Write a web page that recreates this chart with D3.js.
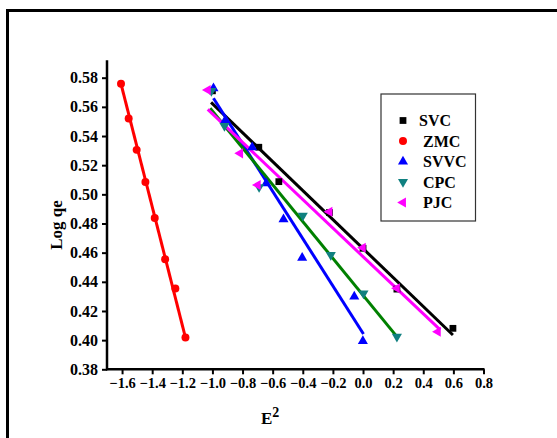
<!DOCTYPE html>
<html>
<head>
<meta charset="utf-8">
<script src="https://cdn.jsdelivr.net/npm/d3@7"></script>
<style>
  body { margin: 0; background: #fff; }
  svg { display: block; font-family: 'Liberation Serif', 'Times New Roman', serif; font-weight: bold; }
</style>
</head>
<body>
<script>
var seriesNames = ['SVC', 'ZMC', 'SVVC', 'CPC', 'PJC']
var xTicks = [-1.6, -1.4, -1.2, -1.0, -0.8, -0.6, -0.4, -0.2, 0.0, 0.2, 0.4, 0.6, 0.8]
var yTicks = [0.38, 0.40, 0.42, 0.44, 0.46, 0.48, 0.50, 0.52, 0.54, 0.56, 0.58]

var svcX = [-1.0, -0.692, -0.559, -0.223, 0.0, 0.225, 0.597]
var svcY = [0.571, 0.5323, 0.5087, 0.4875, 0.463, 0.435, 0.4081]
var zmcX = [-1.607, -1.556, -1.503, -1.445, -1.383, -1.314, -1.246, -1.179]
var zmcY = [0.5758, 0.5520, 0.5305, 0.5085, 0.4838, 0.4555, 0.4354, 0.4018]
var svvcX = [-0.993, -0.914, -0.736, -0.643, -0.528, -0.404, -0.058, -0.001]
var svvcY = [0.5727, 0.5510, 0.5323, 0.5076, 0.4829, 0.4565, 0.4298, 0.3994]
var cpcX = [-1.007, -0.920, -0.690, -0.400, -0.214, 0.003, 0.225]
var cpcY = [0.5709, 0.5469, 0.5050, 0.4853, 0.4584, 0.4321, 0.4024]
var pjcX = [-1.031, -0.816, -0.699, -0.223, -0.001, 0.225, 0.497]
var pjcY = [0.5716, 0.5281, 0.5064, 0.4881, 0.4634, 0.4356, 0.4058]

// fitted lines, end points
var svcFitX = [-1.009, 0.597], svcFitY = [0.5631, 0.4035]
var zmcFitX = [-1.607, -1.179], zmcFitY = [0.5758, 0.4018]
var svvcFitX = [-0.993, 0.003], svvcFitY = [0.5659, 0.4042]
var cpcFitX = [-1.015, 0.225], cpcFitY = [0.5590, 0.4024]
var pjcFitX = [-1.031, 0.513], pjcFitY = [0.5583, 0.4070]

var W = 557, H = 438
var svg = d3.select('body').append('svg').attr('width', W).attr('height', H)

svg.append('rect').attr('x', 7.5).attr('y', 10.5).attr('width', W + 10).attr('height', H + 10)
  .style('fill', 'none').style('stroke', '#000').style('stroke-width', 3)

var x = d3.scaleLinear().domain([-1.7, 0.8]).range([107, 483.5])
var y = d3.scaleLinear().domain([0.38, 0.58]).range([369.3, 77.7])
var yTop = 0.592

function pairs(xs, ys){ return xs.map(function(d, i){ return [d, ys[i]] }) }

var series = [
  {name: 'SVC', pts: pairs(svcX, svcY), fit: pairs(svcFitX, svcFitY), color: '#000000', line: '#000000', sym: d3.symbolSquare, size: 46, rot: 0},
  {name: 'ZMC', pts: pairs(zmcX, zmcY), fit: pairs(zmcFitX, zmcFitY), color: '#ff0000', line: '#ff0000', sym: d3.symbolCircle, size: 50, rot: 0},
  {name: 'SVVC', pts: pairs(svvcX, svvcY), fit: pairs(svvcFitX, svvcFitY), color: '#0000ff', line: '#0000ff', sym: d3.symbolTriangle, size: 44, rot: 0},
  {name: 'CPC', pts: pairs(cpcX, cpcY), fit: pairs(cpcFitX, cpcFitY), color: '#108080', line: '#008000', sym: d3.symbolTriangle, size: 44, rot: 180},
  {name: 'PJC', pts: pairs(pjcX, pjcY), fit: pairs(pjcFitX, pjcFitY), color: '#ff00ff', line: '#ff00ff', sym: d3.symbolTriangle, size: 44, rot: -90}
]

// axes
var xAxis = d3.axisBottom(x).tickValues(xTicks).tickSize(5).tickFormat(d3.format('.1f'))
var xMinor = d3.axisBottom(x).tickValues(d3.range(-1.7, 0.75, 0.2)).tickSize(3).tickFormat('')
var yAxis = d3.axisLeft(y).tickValues(yTicks).tickSize(5).tickFormat(d3.format('.2f'))
var yMinor = d3.axisLeft(y).tickValues(d3.range(0.39, 0.595, 0.02)).tickSize(3).tickFormat('')

var gx = svg.append('g').attr('transform', 'translate(0,' + y(0.38) + ')')
gx.call(xMinor)
gx.call(xAxis)
var gy = svg.append('g').attr('transform', 'translate(' + x(-1.7) + ',0)')
gy.call(yMinor)
gy.call(yAxis)

svg.selectAll('.domain').remove()
svg.selectAll('.tick line').style('stroke', '#000').style('stroke-width', 2)
gx.selectAll('text').style('font-size', '14.5px').style('font-family', 'Liberation Serif').attr('y', 8).attr('dy', '0.71em')
gy.selectAll('text').style('font-size', '16px').style('font-family', 'Liberation Serif').attr('x', -9)

svg.append('line').attr('x1', x(-1.7) - 1).attr('x2', x(0.8) + 1).attr('y1', y(0.38)).attr('y2', y(0.38))
  .style('stroke', '#000').style('stroke-width', 2.5)
svg.append('line').attr('x1', x(-1.7)).attr('x2', x(-1.7)).attr('y1', y(0.38) + 1).attr('y2', y(yTop))
  .style('stroke', '#000').style('stroke-width', 2.5)

// axis titles
svg.append('text').attr('transform', 'translate(62,225) rotate(-90)').attr('text-anchor', 'middle')
  .style('font-size', '17px').text('Log qe')
var xt = svg.append('text').attr('x', 261).attr('y', 424).style('font-size', '17px')
xt.append('tspan').text('E')
xt.append('tspan').attr('dy', -7).style('font-size', '14px').text('2')

// fit lines
var line = d3.line().x(function(d){ return x(d[0]) }).y(function(d){ return y(d[1]) })
svg.append('g').selectAll('path').data(series).enter().append('path')
  .attr('d', function(d){ return line(d.fit) })
  .style('stroke', function(d){ return d.line })
  .style('stroke-width', 3)
  .style('fill', 'none')

// points
series.forEach(function(s){
  var sym = d3.symbol().type(s.sym).size(s.size)
  svg.append('g').selectAll('path').data(s.pts).enter().append('path')
    .attr('d', sym)
    .attr('transform', function(d){ return 'translate(' + x(d[0]) + ',' + y(d[1]) + ') rotate(' + s.rot + ')' })
    .style('fill', s.color)
})

// legend
var lg = svg.append('g')
lg.append('rect').attr('x', 381).attr('y', 94).attr('width', 94.5).attr('height', 127)
  .style('fill', '#fff').style('stroke', '#333').style('stroke-width', 1.2)
series.forEach(function(s, i){
  var cy = 120.5 + i * 20.5
  lg.append('path').attr('d', d3.symbol().type(s.sym).size(s.size)())
    .attr('transform', 'translate(403,' + cy + ') rotate(' + s.rot + ')')
    .style('fill', s.color)
  lg.append('text').attr('x', i ? 423 : 419).attr('y', cy + 5.5).style('font-size', '16px').text(s.name)
})
</script>
</body>
</html>
